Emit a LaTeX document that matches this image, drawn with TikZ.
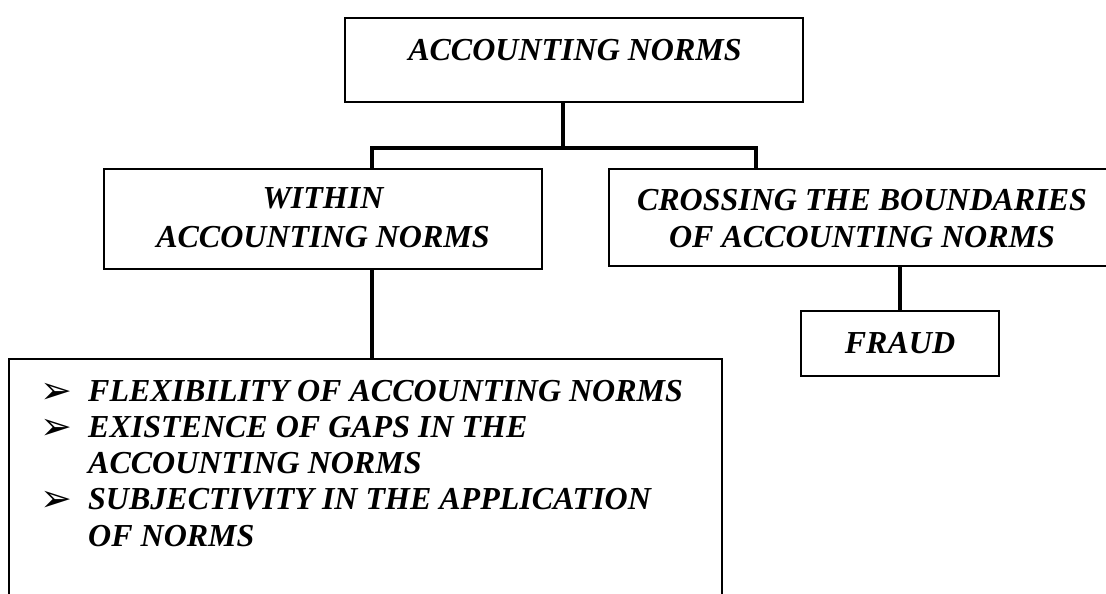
\documentclass[tikz,border=0pt]{standalone}
\usepackage{fontspec}
\setmainfont{Liberation Serif}
\newfontfamily\symfont{DejaVu Sans}
\begin{document}
\begin{tikzpicture}[x=1pt,y=-1pt,
  box/.style={draw,line width=1.8pt,inner sep=0pt},
  link/.style={line width=3.6pt,line join=miter},
  lbl/.style={font=\fontsize{32}{36}\selectfont\bfseries\itshape,inner sep=0pt},
  bul/.style={font=\symfont\fontsize{38}{38}\selectfont,inner sep=0pt,anchor=base west}]
\useasboundingbox (0,0) rectangle (1106,594);

% boxes
\node[box,minimum width=458pt,minimum height=84pt] (top) at (574,60) {};
\node[box,minimum width=438pt,minimum height=100pt] (within) at (323,219) {};
\node[box,minimum width=506pt,minimum height=97pt] (cross) at (862,217.5) {};
\node[box,minimum width=198pt,minimum height=65pt] (fraud) at (900,343.5) {};
\node[box,minimum width=713pt,minimum height=251pt] (list) at (365.5,484.5) {};

% connectors
\coordinate (j) at (563,148);
\coordinate (jl) at (372,148);
\coordinate (jr) at (756,148);
\draw[link] (top.south -| j) -- (j);
\draw[link] (within.north -| jl) -- (jl) -- (jr) -- (cross.north -| jr);
\draw[link] (within.south -| jl) -- (list.north -| jl);
\draw[link] (cross.south -| fraud.north) -- (fraud.north);

% labels
\node[lbl,anchor=base] (ttop) at (575,61) {ACCOUNTING NORMS};
\node[lbl,anchor=base] (tw1) at (323,208) {WITHIN};
\node[lbl,anchor=base] (tw2) at (323,247) {ACCOUNTING NORMS};
\node[lbl,anchor=base] (tc1) at (862,210) {CROSSING THE BOUNDARIES};
\node[lbl,anchor=base] (tc2) at (862,247) {OF ACCOUNTING NORMS};
\node[lbl,anchor=base] (tf) at (900,353) {FRAUD};

% bullet list
\node[bul] (b1) at (40,403) {➢};
\node[bul] (b2) at (40,439) {➢};
\node[bul] (b3) at (40,511) {➢};
\node[lbl,anchor=base west] (l1) at (88,401) {FLEXIBILITY OF ACCOUNTING NORMS};
\node[lbl,anchor=base west] (l2) at (88,437) {EXISTENCE OF GAPS IN THE};
\node[lbl,anchor=base west] (l3) at (88,473) {ACCOUNTING NORMS};
\node[lbl,anchor=base west] (l4) at (88,509) {SUBJECTIVITY IN THE APPLICATION};
\node[lbl,anchor=base west] (l5) at (88,546) {OF NORMS};
\end{tikzpicture}
\end{document}
